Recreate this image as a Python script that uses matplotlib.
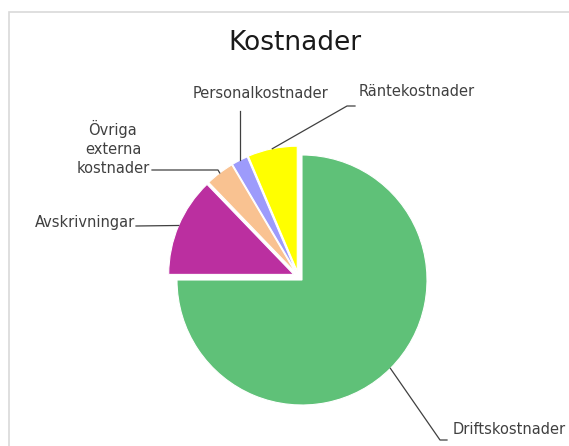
import numpy as np
import matplotlib.pyplot as plt

labels = ['Driftskostnader', 'Avskrivningar', 'Övriga\nexterna\nkostnader',
          'Personalkostnader', 'Räntekostnader']
values = [75.0, 12.8, 3.7, 2.1, 6.4]
colors = ['#5FC178', '#BB2FA0', '#F9C291', '#9D9BFB', '#FFFF00']
pulled = [False, True, True, True, True]

W, H = 569, 446
fig = plt.figure(figsize=(W / 100, H / 100), dpi=100)
ax = fig.add_axes([0, 0, 1, 1])

cx, cy, r = 302, H - 280, 125
wedges, _ = ax.pie(values, colors=colors, startangle=90,
                   counterclock=False, center=(cx, cy), radius=r,
                   wedgeprops=dict(edgecolor='white', linewidth=0.8))

# pull the small slices out of the pie, mostly as one group
d = 10
for w, p in zip(wedges, pulled):
    if p:
        mid = (w.theta1 + w.theta2) / 2
        diff = (mid - 135 + 180) % 360 - 180
        phi = np.deg2rad(135 + 0.5 * diff)
        w.set_center((cx + d * np.cos(phi), cy + d * np.sin(phi)))

ax.set_xlim(0, W)
ax.set_ylim(0, H)
ax.set_aspect('equal')
ax.axis('off')

# chart frame (top and left edge visible)
ax.plot([9.5, 9.5, W], [0, H - 11.5, H - 11.5], color='#d9d9d9', lw=1.2,
        solid_joinstyle='miter')

ax.text(295, H - 43, 'Kostnader', ha='center', va='center', fontsize=19,
        color='#1a1a1a')


def arc_mid(w):
    t = np.deg2rad((w.theta1 + w.theta2) / 2)
    x0, y0 = w.center
    return x0 + w.r * np.cos(t), y0 + w.r * np.sin(t)


txt = dict(fontsize=10.5, color='#404040')
line = dict(color='#404040', lw=0.9)

# label text position, anchor and leader path (image coordinates)
layout = {
    0: ((453, 430), 'left', [(440, 440), (447, 440)]),
    1: ((135, 222), 'right', [(136, 226)]),
    2: ((113, 148), 'center', [(218, 170), (152, 170)]),
    3: ((261, 93), 'center', [(None, 111)]),
    4: ((359, 91), 'left', [(347, 106), (355, 106)]),
}

for i, w in enumerate(wedges):
    (tx, ty), ha, path = layout[i]
    sx, sy = arc_mid(w)
    xs, ys = [sx], [sy]
    for px, py in path:
        xs.append(sx if px is None else px)
        ys.append(H - py)
    ax.plot(xs, ys, **line)
    ax.text(tx, H - ty, labels[i], ha=ha, va='center', multialignment='center',
            linespacing=1.3, **txt)

fig.savefig('out.png', dpi=100)
